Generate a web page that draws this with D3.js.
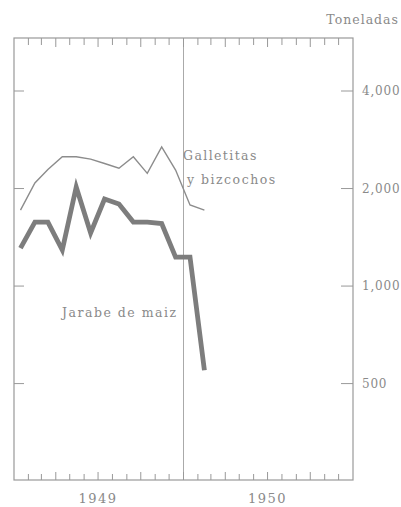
<!DOCTYPE html>
<html>
<head>
<meta charset="utf-8">
<script src="https://cdn.jsdelivr.net/npm/d3@7"></script>
<style>
  body { margin: 0; background: #fff; }
  svg { display: block; font-family: "DejaVu Serif", "Liberation Serif", serif; }
</style>
</head>
<body>
<div id="chart"></div>
<script>
// Data (monthly, tonnes)
const months = ["1949-01", "1949-02", "1949-03", "1949-04", "1949-05", "1949-06", "1949-07",
                "1949-08", "1949-09", "1949-10", "1949-11", "1949-12", "1950-01", "1950-02"];
const galletitas = [1716, 2080, 2290, 2508, 2508, 2465, 2390, 2310, 2508, 2228, 2690, 2281, 1779, 1716];
const jarabe = [1310, 1576, 1576, 1292, 2021, 1458, 1856, 1791, 1576, 1576, 1560, 1229, 1229, 550];
const yTicks = [500, 1000, 2000, 4000];
const yTickLabels = ["500", "1,000", "2,000", "4,000"];
const years = ["1949", "1950"];

const width = 401, height = 507;
const frame = { left: 14, right: 353, top: 38, bottom: 480 };
const ink = "#8a8a8a";

const parse = d3.timeParse("%Y-%m");
const mid = m => d3.timeDay.offset(parse(m), 14);

const x = d3.scaleTime()
    .domain([new Date(1949, 0, 1), new Date(1951, 0, 1)])
    .range([frame.left, frame.right]);

// log scale: ~97.5px per doubling, 1000 at y=286
const y = d3.scaleLog()
    .domain([252, 5830])
    .range([frame.bottom, frame.top]);

const svg = d3.select("#chart").append("svg")
    .attr("width", width)
    .attr("height", height);

// frame
svg.append("rect")
    .attr("x", frame.left).attr("y", frame.top)
    .attr("width", frame.right - frame.left).attr("height", frame.bottom - frame.top)
    .attr("fill", "none").attr("stroke", "#999").attr("stroke-width", 1.2);

// year divider
svg.append("line")
    .attr("x1", x(new Date(1950, 0, 1))).attr("x2", x(new Date(1950, 0, 1)))
    .attr("y1", frame.top).attr("y2", frame.bottom)
    .attr("stroke", "#aaa").attr("stroke-width", 1);

// month ticks top and bottom
const monthTicks = x.ticks(d3.timeMonth.every(1)).slice(1, -1);
svg.append("g").selectAll("line").data(monthTicks).join("line")
    .attr("x1", d => x(d)).attr("x2", d => x(d))
    .attr("y1", frame.top).attr("y2", d => frame.top + (d.getMonth() % 3 === 0 ? 9 : 7))
    .attr("stroke", "#999").attr("stroke-width", 1);
svg.append("g").selectAll("line").data(monthTicks).join("line")
    .attr("x1", d => x(d)).attr("x2", d => x(d))
    .attr("y1", frame.bottom).attr("y2", d => frame.bottom - (d.getMonth() % 3 === 0 ? 8 : 6))
    .attr("stroke", "#999").attr("stroke-width", 1);

// y ticks both sides (inward)
const yt = svg.append("g");
yt.selectAll("line.l").data(yTicks).join("line").attr("class", "l")
    .attr("x1", frame.left).attr("x2", frame.left + 10)
    .attr("y1", d => y(d)).attr("y2", d => y(d))
    .attr("stroke", "#999").attr("stroke-width", 1);
yt.selectAll("line.r").data(yTicks).join("line").attr("class", "r")
    .attr("x1", frame.right - 12).attr("x2", frame.right)
    .attr("y1", d => y(d)).attr("y2", d => y(d))
    .attr("stroke", "#999").attr("stroke-width", 1);
yt.selectAll("text").data(yTicks).join("text")
    .attr("x", frame.right + 9).attr("y", d => y(d)).attr("dy", "0.35em")
    .attr("font-size", 12).attr("fill", ink).attr("letter-spacing", 0.8)
    .text((d, i) => yTickLabels[i]);

svg.append("text")
    .attr("x", 399).attr("y", 24).attr("text-anchor", "end")
    .attr("font-size", 12.5).attr("fill", ink).attr("letter-spacing", 1)
    .text("Toneladas");

// year labels
svg.append("g").selectAll("text").data(years).join("text")
    .attr("x", d => x(new Date(+d, 6, 1)))
    .attr("y", 503).attr("text-anchor", "middle")
    .attr("font-size", 13).attr("fill", ink).attr("letter-spacing", 1.5)
    .text(d => d);

// lines
const line = vals => d3.line()
    .x((d, i) => x(mid(months[i])))
    .y(d => y(d))(vals);

svg.append("path")
    .attr("d", line(galletitas))
    .attr("fill", "none").attr("stroke", "#8c8c8c").attr("stroke-width", 1.4)
    .attr("stroke-linejoin", "miter");

svg.append("path")
    .attr("d", line(jarabe))
    .attr("fill", "none").attr("stroke", "#7d7d7d").attr("stroke-width", 4.8)
    .attr("stroke-linejoin", "miter");

// series labels
svg.append("text").attr("x", 183).attr("y", 160)
    .attr("font-size", 12.5).attr("fill", ink).attr("letter-spacing", 1.4)
    .text("Galletitas");
svg.append("text").attr("x", 187).attr("y", 184)
    .attr("font-size", 12.5).attr("fill", ink).attr("letter-spacing", 1.5)
    .text("y bizcochos");
svg.append("text").attr("x", 62).attr("y", 317)
    .attr("font-size", 12.5).attr("fill", ink).attr("letter-spacing", 1.5)
    .text("Jarabe de maiz");
</script>
</body>
</html>
